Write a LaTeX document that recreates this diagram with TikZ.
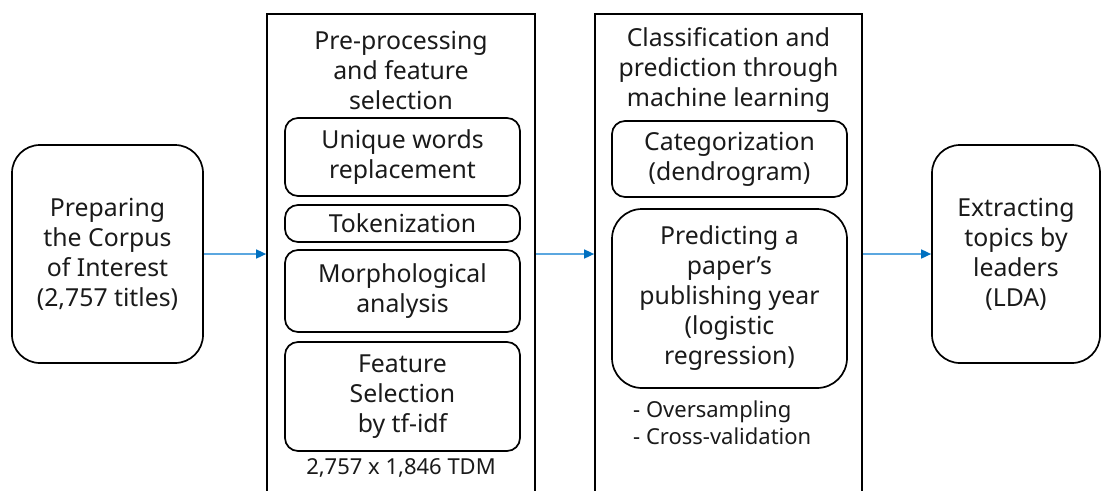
\documentclass[tikz,border=0pt]{standalone}
\usepackage{fontspec}
\setmainfont{Noto Sans}
\definecolor{arrowline}{RGB}{91,167,224}
\definecolor{arrowtip}{RGB}{0,112,192}
\definecolor{txt}{RGB}{26,26,26}
\usetikzlibrary{arrows.meta}
\begin{document}
\begin{tikzpicture}
[
	x=1pt,y=-1pt,
	every node/.style={text=txt,font=\fontsize{24.8}{30}\selectfont,align=center,inner sep=0},
	bb/.style={rectangle,draw,line width=1.7,minimum width=268,minimum height=506},
	rb/.style={rectangle,draw,rounded corners=13,line width=1.7,minimum width=235},
	eb/.style={rectangle,draw,rounded corners=28,line width=1.7,minimum height=218},
	small/.style={font=\fontsize{22}{27}\selectfont},
	flow/.style={arrowline,line width=1.6,-{Triangle[length=10,width=9,fill=arrowtip,color=arrowtip]}}
]
\clip (0,0) rectangle (1110,490);

% input and output
\node[eb,minimum width=191] (corpus) at (107.5,254) {Preparing\\the Corpus\\of Interest\\(2,757 titles)};
\node[eb,minimum width=168] (topics) at (1016,254) {Extracting\\topics by\\leaders\\(LDA)};

% pre-processing
\node[bb] (pre) at (401,267) {};
\node (pretitle) at (401,70) {Pre-processing\\and feature\\selection};
\node[rb,minimum height=78] (uniq) at (402.5,157) {Unique words\\replacement};
\node[rb,minimum height=37] (tok) at (402.5,223.5) {Tokenization};
\node[rb,minimum height=82] (morph) at (402.5,291) {Morphological\\analysis};
\node[rb,minimum height=109] (feat) at (402.5,396.5) {Feature\\Selection\\by tf-idf};
\node[small] (tdm) at (401,468) {2,757 x 1,846 TDM};

% classification
\node[bb,minimum width=267] (cls) at (728.5,267) {};
\node (clstitle) at (728.5,70) {Classification and\\prediction through\\machine learning};
\node[rb,minimum height=76] (cat) at (729.5,159) {Categorization\\(dendrogram)};
\node[rb,minimum height=179,rounded corners=30] (pred) at (729.5,298.5) {Predicting a\\paper’s\\publishing year\\(logistic\\regression)};
\node[small,anchor=west,align=left] (notes) at (633,422.5) {- Oversampling\\- Cross-validation};

\draw[flow] (corpus.east) -- (corpus.east -| pre.west);
\draw[flow] (pre.east |- corpus.east) -- (cls.west |- corpus.east);
\draw[flow] (cls.east |- corpus.east) -- (topics.west |- corpus.east);

\end{tikzpicture}
\end{document}
